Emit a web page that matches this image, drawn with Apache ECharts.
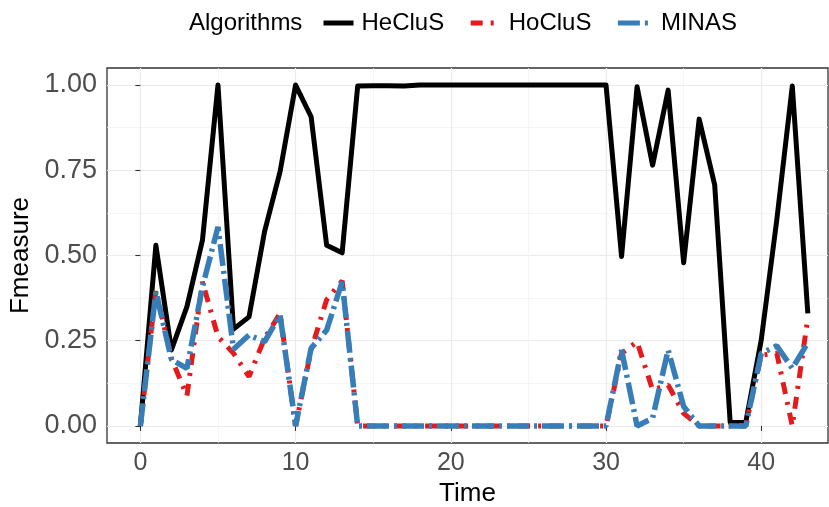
<!DOCTYPE html>
<html>
<head>
<meta charset="utf-8">
<script src="https://cdn.jsdelivr.net/npm/echarts@6/dist/echarts.min.js"></script>
<style>
  html, body { margin: 0; padding: 0; background: #fff; }
  #main { width: 829px; height: 507px; }
</style>
</head>
<body>
<div id="main"></div>
<script>
    // 時間點
    var times = [0, 1, 2, 3, 4, 5, 6, 7, 8, 9, 10, 11, 12, 13, 14, 15, 16, 17, 18, 19, 20, 21,
        22, 23, 24, 25, 26, 27, 28, 29, 30, 31, 32, 33, 34, 35, 36, 37, 38, 39, 40, 41, 42, 43];

    var hecluS = [0, 0.53, 0.223, 0.35, 0.545, 1, 0.284, 0.32, 0.57, 0.746, 1, 0.907, 0.53, 0.508,
        0.997, 0.998, 0.998, 0.997, 1, 1, 1, 1, 1, 1, 1, 1, 1, 1, 1, 1, 1,
        0.497, 0.995, 0.765, 0.985, 0.479, 0.9, 0.707, 0.01, 0.01, 0.252, 0.604, 0.997, 0.33];

    var hocluS = [0, 0.399, 0.198, 0.088, 0.423, 0.262, 0.213, 0.145, 0.257, 0.33, 0, 0.223, 0.37, 0.426,
        0, 0, 0, 0, 0, 0, 0, 0, 0, 0, 0, 0, 0, 0, 0, 0, 0,
        0.213, 0.247, 0.106, 0.12, 0.037, 0, 0, 0, 0, 0.208, 0.213, 0, 0.316];

    var minas = [0, 0.394, 0.195, 0.169, 0.408, 0.584, 0.225, 0.267, 0.247, 0.325, 0, 0.228, 0.281, 0.423,
        0, 0, 0, 0, 0, 0, 0, 0, 0, 0, 0, 0, 0, 0, 0, 0, 0,
        0.223, 0, 0.023, 0.223, 0.057, 0, 0, 0, 0, 0.213, 0.235, 0.169, 0.244];

    // 刻度
    var xTicks = [0, 10, 20, 30, 40];
    var xMinor = [5, 15, 25, 35];
    var yTicks = [0, 0.25, 0.5, 0.75, 1];
    var yMinor = [0.125, 0.375, 0.625, 0.875];

    function pairs(vals) {
        return times.map(function (t, i) { return [t, vals[i]]; });
    }

    var myChart = echarts.init(document.getElementById('main'));

    var xMin = -2.15, xMax = 44.3, yMin = -0.05, yMax = 1.05;

    var option = {
        animation: false,
        textStyle: { fontFamily: 'Liberation Sans, Arial, sans-serif' },
        title: {
            text: 'Algorithms',
            left: 189,
            top: 11,
            padding: 0,
            textStyle: { fontSize: 24, fontWeight: 'normal', color: '#000' }
        },
        legend: {
            left: 321,
            top: 11,
            padding: 0,
            itemWidth: 30,
            itemHeight: 24,
            itemGap: 24,
            itemStyle: { opacity: 0 },
            lineStyle: { width: 5 },
            textStyle: { fontSize: 24, color: '#000', padding: [0, 0, 0, 3] },
            data: [
                'HeCluS',
                { name: 'HoCluS', textStyle: { padding: [0, 10, 0, 3] } },
                { name: 'MINAS', textStyle: { padding: [0, 0, 0, 8] } }
            ]
        },
        grid: {
            left: 107,
            right: 1,
            top: 68,
            bottom: 64,
            outerBoundsMode: 'none',
            show: true,
            backgroundColor: '#fff',
            borderColor: '#333',
            borderWidth: 1.3
        },
        xAxis: [{
            type: 'value',
            min: xMin,
            max: xMax,
            name: 'Time',
            nameLocation: 'middle',
            nameGap: 33,
            nameTextStyle: { fontSize: 26, color: '#000' },
            axisLine: { show: false },
            axisTick: { show: true, length: 5, customValues: xTicks, lineStyle: { color: '#333', width: 1.1 } },
            axisLabel: { customValues: xTicks, fontSize: 25, color: '#4d4d4d', margin: 8 },
            splitLine: { show: true, lineStyle: { color: '#ebebeb', width: 1.2 } }
        }, {
            type: 'value',
            position: 'top',
            min: xMin,
            max: xMax,
            axisLine: { show: false },
            axisTick: { show: false, customValues: xMinor },
            axisLabel: { show: false },
            splitLine: { show: true, lineStyle: { color: '#f0f0f0', width: 0.7 } }
        }],
        yAxis: [{
            type: 'value',
            min: yMin,
            max: yMax,
            name: 'Fmeasure',
            nameLocation: 'middle',
            nameGap: 61,
            nameTextStyle: { fontSize: 26, color: '#000' },
            axisLine: { show: false },
            axisTick: { show: true, length: 5, customValues: yTicks, lineStyle: { color: '#333', width: 1.1 } },
            axisLabel: {
                customValues: yTicks, fontSize: 27, color: '#4d4d4d', margin: 10,
                formatter: function (v) { return v.toFixed(2); }
            },
            splitLine: { show: true, lineStyle: { color: '#ebebeb', width: 1.2 } }
        }, {
            type: 'value',
            position: 'right',
            min: yMin,
            max: yMax,
            axisLine: { show: false },
            axisTick: { show: false, customValues: yMinor },
            axisLabel: { show: false },
            splitLine: { show: true, lineStyle: { color: '#f0f0f0', width: 0.7 } }
        }],
        series: [{
            name: 'HeCluS',
            type: 'line',
            showSymbol: false,
            symbol: 'none',
            data: pairs(hecluS),
            itemStyle: { color: '#000' },
            lineStyle: { color: '#000', width: 5, join: 'round' }
        }, {
            name: 'HoCluS',
            type: 'line',
            showSymbol: false,
            symbol: 'none',
            data: pairs(hocluS),
            itemStyle: { color: '#e41a1c' },
            lineStyle: { color: '#e41a1c', width: 5, type: [12, 8, 3, 8] }
        }, {
            name: 'MINAS',
            type: 'line',
            showSymbol: false,
            symbol: 'none',
            data: pairs(minas),
            itemStyle: { color: '#377eb8' },
            lineStyle: { color: '#377eb8', width: 5.5, type: [22, 5, 3, 5] }
        }]
    };

    myChart.setOption(option);

    window.addEventListener('resize', function () {
        myChart.resize();
    });
</script>
</body>
</html>
